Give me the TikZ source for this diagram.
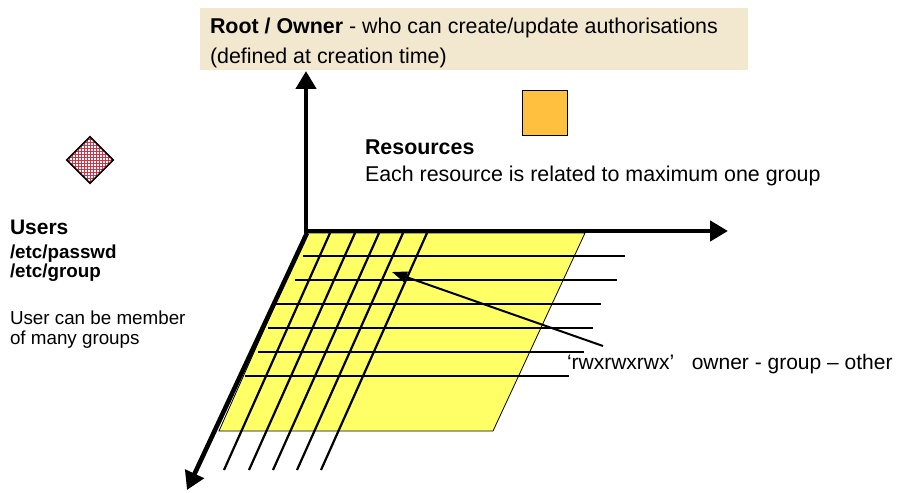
\documentclass[tikz,border=0pt]{standalone}
\usepackage{fontspec}
\setmainfont{Liberation Sans}
\usetikzlibrary{arrows.meta,shapes.geometric}
\definecolor{rootbg}{RGB}{242,232,208}
\definecolor{gridyellow}{RGB}{255,255,102}
\definecolor{resorange}{RGB}{255,192,64}
\definecolor{checkred}{RGB}{210,50,70}
\tikzset{
  lbl/.style={anchor=base west, inner sep=0pt, outer sep=0pt},
  bigtxt/.style={lbl, font=\fontsize{21.4}{24}\selectfont},
  smalltxt/.style={lbl, font=\fontsize{18.8}{22}\selectfont},
  axis/.style={line width=4.6pt, -{Triangle[length=18pt,width=20pt]}},
  gridline/.style={line width=2.2pt},
  rowline/.style={line width=2.6pt},
  pointer/.style={line width=2pt, -{Triangle[length=15pt,width=11pt]}}
}
\begin{document}
\begin{tikzpicture}[x=1pt,y=-1pt]
\useasboundingbox (0,0) rectangle (901,492);

% Root / Owner box
\node[fill=rootbg, minimum width=548pt, minimum height=62pt, inner sep=0pt, anchor=north west] (rootbox) at (200,8) {};
\node[bigtxt] (roottxt1) at (210,34) {\textbf{Root / Owner} - who can create/update authorisations};
\node[bigtxt] (roottxt2) at (210,63.5) {(defined at creation time)};

% Users diamond
\node[diamond, minimum width=46pt, minimum height=46pt, inner sep=0pt, fill=white,
  path picture={
    \foreach \i in {0,...,16}{
      \draw[checkred, line width=0.75pt] (-24+\i*3,-25) -- ++(0,50);
      \draw[checkred, line width=0.75pt] (-25,-24+\i*3) -- ++(50,0);
    }
  }] (userdiamond) at (90,160) {};
\draw[line width=1.5pt] (userdiamond.north) -- (userdiamond.east) -- (userdiamond.south) -- (userdiamond.west) -- cycle;

\node[lbl, font=\fontsize{21}{24}\selectfont\bfseries] (userstitle) at (10,234) {Users};
\node[smalltxt, font=\fontsize{18.8}{22}\selectfont\bfseries] (passwd) at (10,258) {/etc/passwd};
\node[smalltxt, font=\fontsize{18.8}{22}\selectfont\bfseries] (group) at (10,277) {/etc/group};
\node[smalltxt] (usernote1) at (10,324.5) {User can be member};
\node[smalltxt] (usernote2) at (10,344.5) {of many groups};

% Resource square
\node[draw, line width=1.6pt, fill=resorange, minimum size=45pt, inner sep=0pt] (resource) at (545,113) {};
\node[bigtxt, font=\fontsize{21.4}{24}\selectfont\bfseries] (restitle) at (365,154) {Resources};
\node[bigtxt] (restxt) at (365,181) {Each resource is related to maximum one group};

% yellow plane
\fill[gridyellow, draw=black, line width=0.8pt] (307,233) -- (585,233) -- (493,431) -- (219,431) -- cycle;

% slanted grid lines
\foreach \x in {330,355,379,403,427}{
  \draw[gridline] (\x,233) -- (\x-106,470);
}
% horizontal grid lines
\draw[rowline] (303,256) -- (625,256);
\draw[rowline] (295,280) -- (617,280);
\draw[rowline] (275,304) -- (601,304);
\draw[rowline] (268,328) -- (593,328);
\draw[rowline] (258,352) -- (584,352);
\draw[rowline] (245,376) -- (569,376);

% axes
\coordinate (origin) at (306,231);
\coordinate (uptip) at (306,71);
\coordinate (righttip) at (728,231);
\coordinate (downtip) at (187,490);
\draw[axis] (306,233.3) -- (uptip);
\draw[axis] (303.7,231) -- (righttip);
\draw[axis] (307,233) -- (downtip);

% permission pointer
\node[lbl, font=\fontsize{21}{24}\selectfont] (rwx) at (567,369.5) {‘rwxrwxrwx’\hspace{0.556em} owner - group – other};
\coordinate (ptrfrom) at (603,346);
\coordinate (ptrto) at (392,272);
\draw[pointer] (ptrfrom) -- (ptrto);
\end{tikzpicture}
\end{document}
